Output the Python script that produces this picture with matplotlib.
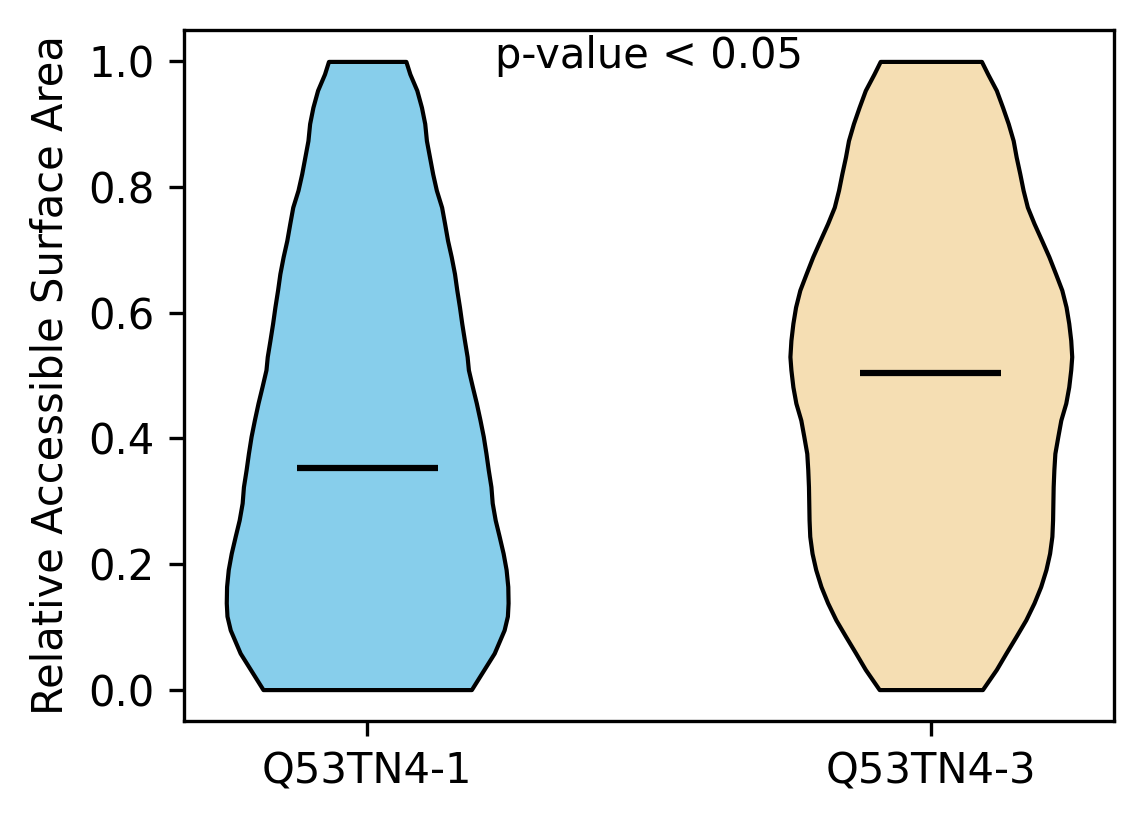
import matplotlib
matplotlib.use("Agg")
import matplotlib.pyplot as plt
import numpy as np

categories = ["Q53TN4-1", "Q53TN4-3"]
colors = ["skyblue", "wheat"]
medians = [0.353, 0.504]
annotation = "p-value < 0.05"

# density profiles (relative half-widths)
coords_1 = [0.0, 0.058, 0.095, 0.117, 0.138, 0.164, 0.191, 0.217, 0.244, 0.270,
            0.297, 0.323, 0.350, 0.376, 0.403, 0.429, 0.456, 0.482, 0.509, 0.530,
            0.556, 0.583, 0.609, 0.636, 0.662, 0.689, 0.715, 0.742, 0.768, 0.795,
            0.821, 0.874, 0.901, 0.927, 0.954, 0.980, 1.0]
dens_1 = [105, 128, 138, 141.3, 142, 141.7, 140, 137, 133, 129,
          126, 124.7, 122, 119.7, 117, 113.7, 110, 106, 102, 100.7,
          98, 95.3, 93, 90.3, 88, 84.7, 81, 78, 75, 69.7,
          66, 59.7, 58, 54.7, 50, 43, 39]

coords_2 = [0.0, 0.016, 0.032, 0.058, 0.085, 0.111, 0.138, 0.164, 0.191, 0.217,
            0.244, 0.270, 0.297, 0.323, 0.350, 0.376, 0.403, 0.429, 0.456, 0.482,
            0.509, 0.530, 0.556, 0.583, 0.609, 0.636, 0.662, 0.689, 0.715, 0.742,
            0.768, 0.795, 0.821, 0.848, 0.874, 0.901, 0.927, 0.954, 0.980, 1.0]
dens_2 = [52, 59, 66, 75.7, 86, 95.7, 104, 110.7, 116, 119.7,
          122, 122.7, 123, 123.3, 124, 125, 128, 131, 136, 139,
          141, 142, 141, 139, 136.3, 132, 125.7, 119, 111.7, 104,
          97.3, 93, 89.7, 86, 83, 78, 72.3, 66, 57.3, 51]

fig = plt.figure(figsize=(11.44 / 3, 8.24 / 3), dpi=300)
ax = fig.add_axes([184 / 1144, 1 - 721 / 824, (1114 - 184) / 1144, (721 - 30) / 824])

vpstats = []
for c, d, m in zip([coords_1, coords_2], [dens_1, dens_2], medians):
    c = np.asarray(c, dtype=float)
    d = np.asarray(d, dtype=float)
    vpstats.append(dict(coords=c, vals=d, mean=m, median=m,
                        min=c.min(), max=c.max()))

parts = ax.violin(vpstats, positions=[1, 2], widths=0.5,
                  showmeans=False, showextrema=False, showmedians=True)
for body, col in zip(parts["bodies"], colors):
    body.set_facecolor(col)
    body.set_edgecolor("black")
    body.set_linewidth(1.0)
    body.set_alpha(1)
parts["cmedians"].set_color("black")
parts["cmedians"].set_linewidth(1.5)

ax.set_xticks([1, 2])
ax.set_xticklabels(categories)
ax.set_ylabel("Relative Accessible Surface Area")
ax.set_ylim(-0.05, 1.05)
ax.set_xlim(0.675, 2.325)
ax.text(1.5, 1.008, annotation, ha="center", va="center")

fig.savefig("out.png", dpi=300)
